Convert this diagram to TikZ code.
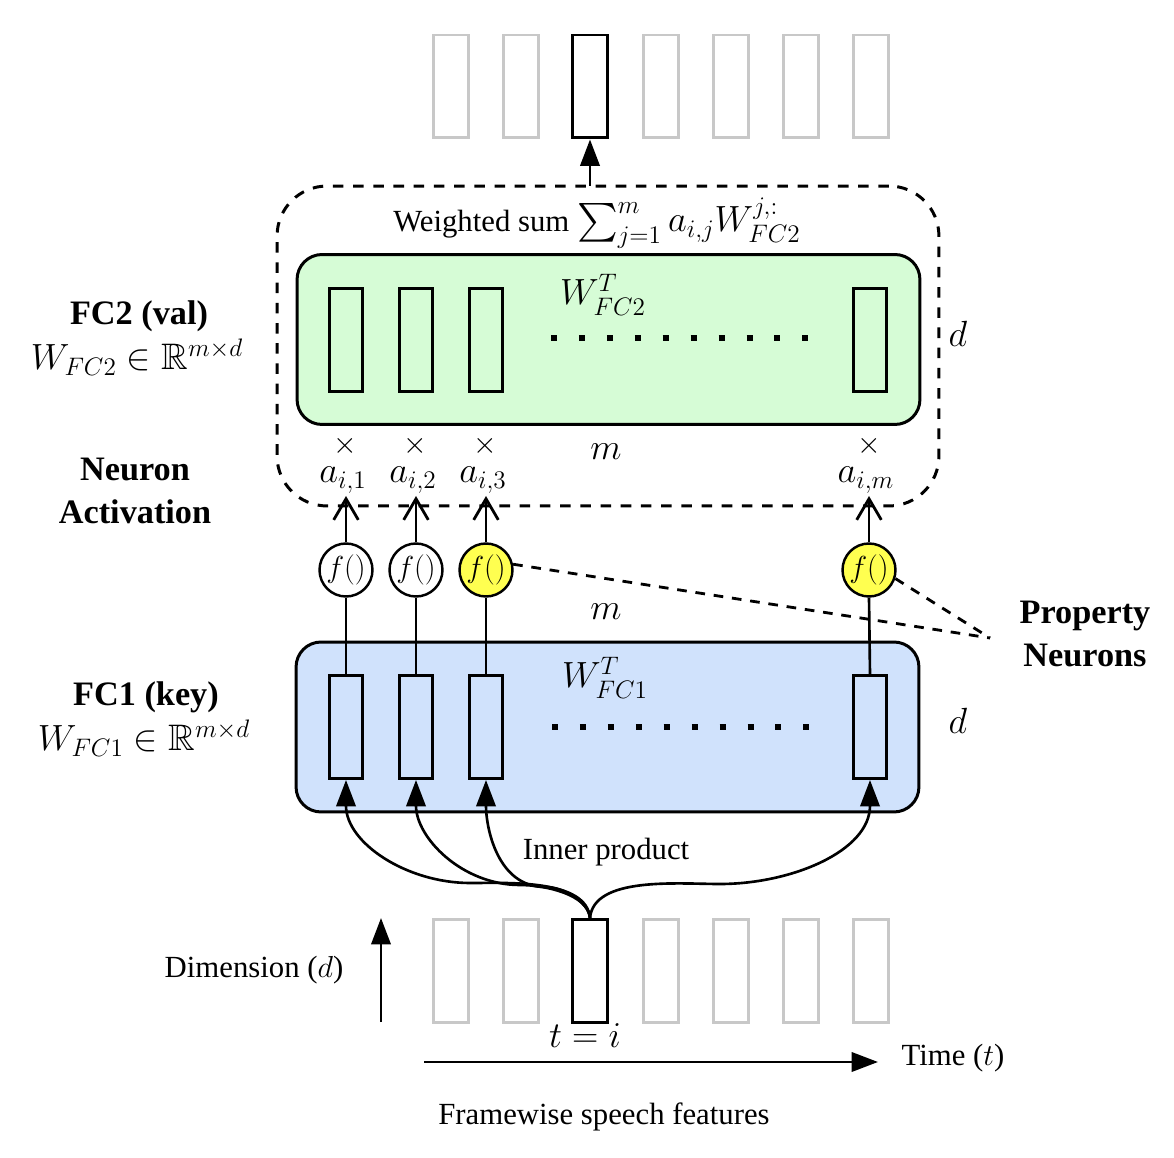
\documentclass[tikz,border=0pt]{standalone}
\usepackage{amsmath,amssymb}
\usepackage{fontspec}
\setmainfont{Liberation Serif}
\usetikzlibrary{arrows.meta,shapes.geometric}

\definecolor{fcgreen}{RGB}{214,252,214}
\definecolor{fcblue}{RGB}{208,226,252}
\definecolor{fyellow}{RGB}{255,255,80}
\definecolor{framegray}{RGB}{200,200,200}

\begin{document}
\begin{tikzpicture}[x=0.02cm,y=-0.02cm,
  every node/.style={font=\fontsize{17.5}{21}\selectfont, inner sep=0pt},
  mth/.style={font=\fontsize{22}{26}\selectfont},
  lbl/.style={font=\fontsize{19.5}{24}\selectfont\bfseries, align=center},
  lblm/.style={font=\fontsize{21}{25}\selectfont},
  gframe/.style={draw=framegray, fill=white, line width=1.7pt, minimum width=0.70cm, minimum height=2.06cm},
  bframe/.style={gframe, draw=black},
  wrect/.style={draw=black, line width=1.7pt, minimum width=0.66cm, minimum height=2.06cm},
  fcbox/.style={draw=black, line width=1.7pt, rounded corners=0.5cm, minimum width=12.46cm, minimum height=3.4cm},
  actn/.style={circle, draw=black, fill=white, line width=1.4pt, minimum size=1.06cm, font=\fontsize{19}{22}\selectfont},
  prop/.style={actn, fill=fyellow},
  fillarrow/.style={line width=1.5pt, -{Triangle[length=15pt,width=11pt]}},
  openarrow/.style={line width=1.6pt, -{Straight Barb[length=12pt,width=14pt]}},
  dashbox/.style={draw=black, line width=1.7pt, dash pattern=on 6pt off 5.5pt, rounded corners=1cm, minimum width=13.24cm, minimum height=6.4cm},
  pdash/.style={line width=1.6pt, dash pattern=on 5.5pt off 5pt},
  dotrow/.style={line width=3.4pt, dash pattern=on 3.4pt off 12.5pt}
]
\useasboundingbox (0,0) rectangle (1174,1158);

% ---------- top output frames ----------
\foreach \i/\x in {1/451,2/521,4/661,5/731,6/801,7/871}{
  \node[gframe] (o\i) at (\x,86.5) {};
}
\node[bframe] (o3) at (590,86.5) {};

% ---------- dashed weighted-sum box ----------
\node[dashbox] (dbox) at (608,346) {};
\coordinate (sumtop) at (590,186);
\draw[fillarrow] (sumtop) -- (o3.south);
\node[anchor=base] (wsum) at (597,232) {Weighted sum {\fontsize{22}{26}\selectfont$\sum_{j=1}^{m} a_{i,j}W_{FC2}^{j,:}$}};

% ---------- FC2 (value) box ----------
\node[fcbox, fill=fcgreen] (fc2) at (608.5,339.5) {};
\foreach \i/\x in {1/346,2/416,3/486,4/870}{
  \node[wrect] (v\i) at (\x,340) {};
}
\node[mth, anchor=base] (w2) at (603,305) {$W_{FC2}^{T}$};
\coordinate (dots2a) at (551,338);
\coordinate (dots2b) at (809,338);
\draw[dotrow] (dots2a) -- (dots2b);
\node[mth, anchor=base] (d2) at (958,347) {$d$};

\foreach \i/\x in {1/345,2/415,3/485,4/869}{
  \node (x\i) at (\x,446) {$\times$};
}
\node[mth, anchor=base] (m2) at (606,460) {$m$};
\node[mth, anchor=base] (a1) at (343,483) {$a_{i,1}$};
\node[mth, anchor=base] (a2) at (413,483) {$a_{i,2}$};
\node[mth, anchor=base] (a3) at (483,483) {$a_{i,3}$};
\node[mth, anchor=base] (a4) at (866,483) {$a_{i,m}$};

% ---------- activation neurons ----------
\node[actn] (c1) at (346,570) {$f()$};
\node[actn] (c2) at (416,570) {$f()$};
\node[prop] (c3) at (486,570) {$f()$};
\node[prop] (c4) at (869,570) {$f()$};

\foreach \i/\x in {1/346,2/416,3/486,4/869}{
  \coordinate (tip\i) at (\x,496);
  \draw[openarrow] (c\i.north) -- (tip\i);
}

\node[mth, anchor=base] (m1) at (606,620) {$m$};

% ---------- FC1 (key) box ----------
\node[fcbox, fill=fcblue] (fc1) at (607.5,727) {};
\foreach \i/\x in {1/346,2/416,3/486,4/870}{
  \node[wrect, fill=fcblue] (k\i) at (\x,727) {};
}
\foreach \i in {1,2,3,4}{
  \draw[line width=1.5pt] (c\i.south) -- (k\i.north);
}
\node[mth, anchor=base] (w1) at (605,688) {$W_{FC1}^{T}$};
\coordinate (dots1a) at (552,727);
\coordinate (dots1b) at (812,727);
\draw[dotrow] (dots1a) -- (dots1b);
\node[mth, anchor=base] (d1) at (958,734) {$d$};

% ---------- property neurons ----------
\coordinate (pn) at (990,638);
\draw[pdash] (c3.12) -- (pn);
\draw[pdash] (c4.-18) -- (pn);
\node[lbl] (plbl) at (1085,634) {Property\\Neurons};

% ---------- left labels ----------
\node[lbl] (fc2l) at (139,316) {FC2 (val)};
\node[lblm] (fc2m) at (137,357) {$W_{FC2}\in\mathbb{R}^{m\times d}$};
\node[lbl] (nal) at (135,491) {Neuron\\Activation};
\node[lbl] (fc1l) at (146,697) {FC1 (key)};
\node[lblm] (fc1m) at (144,738) {$W_{FC1}\in\mathbb{R}^{m\times d}$};

% ---------- input frames ----------
\foreach \i/\x in {1/451,2/521,4/661,5/731,6/801,7/871}{
  \node[gframe] (s\i) at (\x,971) {};
}
\node[bframe] (s3) at (590,971) {};
\node[mth, anchor=base] (ti) at (585,1047) {$t=i$};

\coordinate (mid1) at (470,883);
\coordinate (mid2) at (520,885);
\coordinate (mid3) at (545,887);
\coordinate (mid4) at (720,884);
\foreach \i in {1,2,3}{
  \draw[fillarrow] (s3.north) to[out=95,in=0,looseness=0.8] (mid\i) to[out=180,in=-90] (k\i.south);
}
\draw[fillarrow] (s3.north) to[out=85,in=180,looseness=0.8] (mid4) to[out=0,in=-90] (k4.south);
\node (ip) at (606,852) {Inner product};

% ---------- axes ----------
\coordinate (dimS) at (381,1022);
\coordinate (dimE) at (381,918);
\draw[fillarrow] (dimS) -- (dimE);
\node (diml) at (254,970) {Dimension ($d$)};
\coordinate (timeS) at (424,1062);
\coordinate (timeE) at (878,1062);
\draw[fillarrow] (timeS) -- (timeE);
\node (timel) at (953,1058) {Time ($t$)};
\node (fsf) at (604,1117) {Framewise speech features};
\end{tikzpicture}
\end{document}
